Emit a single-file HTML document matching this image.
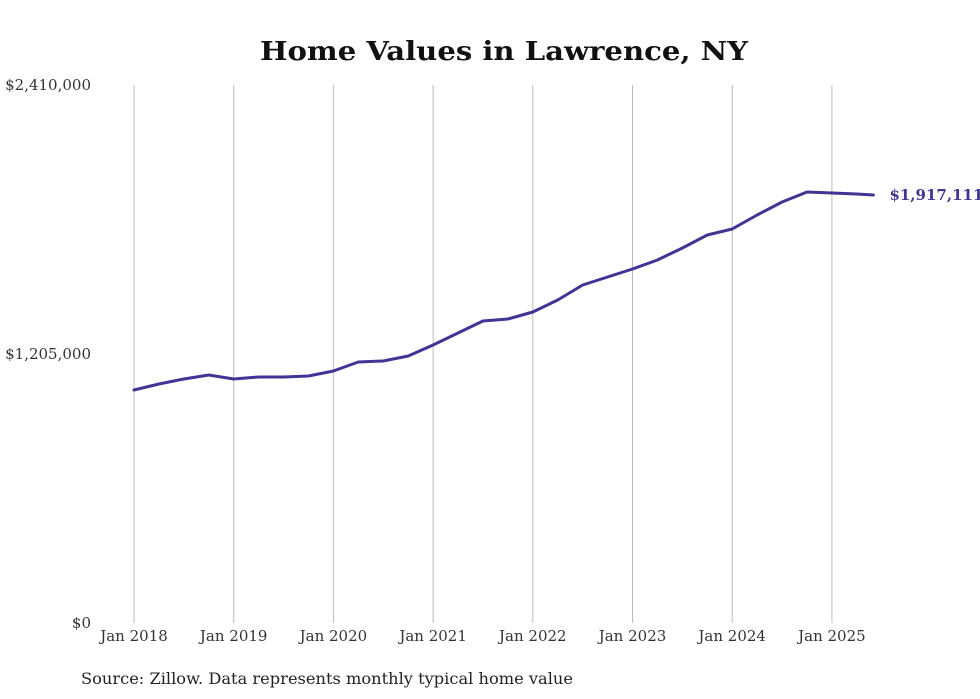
<!DOCTYPE html>
<html><head><meta charset="utf-8"><style>
html,body{margin:0;padding:0;background:#fff;width:980px;height:699px;overflow:hidden}
svg{display:block}
</style></head><body>
<svg id="chart" width="980" height="699" xmlns="http://www.w3.org/2000/svg">
<text x="260" y="60" textLength="488" lengthAdjust="spacingAndGlyphs" font-family="DejaVu Serif, serif" font-weight="bold" font-size="26" fill="#111">Home Values in Lawrence, NY</text>
<g id="grid"></g><g id="yaxis"></g><g id="xaxis"></g><g id="series"></g>
<text x="81" y="684" textLength="492" lengthAdjust="spacingAndGlyphs" font-family="DejaVu Serif, serif" font-size="15.5" fill="#222">Source: Zillow. Data represents monthly typical home value</text>
</svg>
<script>
const months = [0,3,6,9,12,15,18,21,24,27,30,33,36,39,42,45,48,51,54,57,60,63,66,69,72,75,78,81,84,87,89];
const values = [1043700,1070600,1093000,1110900,1093000,1102000,1102000,1106500,1128900,1169200,1173700,1196000,1245300,1299100,1352800,1361800,1393100,1446900,1514100,1549900,1585800,1626100,1679800,1738100,1765000,1827700,1885900,1930700,1926000,1921700,1917111];
const yTicks = [0,1205000,2410000];
const yTickLabels = ["$0","$1,205,000","$2,410,000"];
const xTickYears = [2018,2019,2020,2021,2022,2023,2024,2025];
const lastLabel = "$1,917,111";
const NS="http://www.w3.org/2000/svg";
const x0=134, pxPerMonth=99.7/12, yTop=85, yBot=623, yMax=2410000;
const xs=m=>x0+m*pxPerMonth;
const ys=v=>yBot-(v/yMax)*(yBot-yTop);
function mk(tag,attrs,parent){const e=document.createElementNS(NS,tag);for(const k in attrs)e.setAttribute(k,attrs[k]);parent.appendChild(e);return e;}
const grid=document.getElementById('grid'),xa=document.getElementById('xaxis'),ya=document.getElementById('yaxis'),se=document.getElementById('series');
xTickYears.forEach(yr=>{
  const x=xs((yr-2018)*12);
  const l=mk('line',{x1:x,x2:x,y1:yTop,y2:yBot,stroke:'#bdbdbd','stroke-width':1},grid);
  
  
  const t=mk('text',{x:x,y:641,'text-anchor':'middle','font-family':'DejaVu Serif, serif','font-size':15,fill:'#333'},xa);
  t.textContent='Jan '+yr;
  
  
});
yTicks.forEach((v,i)=>{
  const t=mk('text',{x:91,y:ys(v)+5,'text-anchor':'end','font-family':'DejaVu Serif, serif','font-size':15,fill:'#333'},ya);
  t.textContent=yTickLabels[i];
  
  
});
let d='';
months.forEach((m,i)=>{d+=(i?'L':'M')+xs(m).toFixed(1)+','+ys(values[i]).toFixed(1);});
const p=mk('path',{d:d,fill:'none',stroke:'#3f3594','stroke-width':3,'stroke-linejoin':'round','stroke-linecap':'round'},se);


const lm=months[months.length-1], lv=values[values.length-1];
const lt=mk('text',{x:xs(lm)+16,y:ys(lv)+5,'font-family':'DejaVu Serif, serif','font-weight':'bold','font-size':15,fill:'#3f3594'},se);
lt.textContent=lastLabel;


</script>
</body></html>
